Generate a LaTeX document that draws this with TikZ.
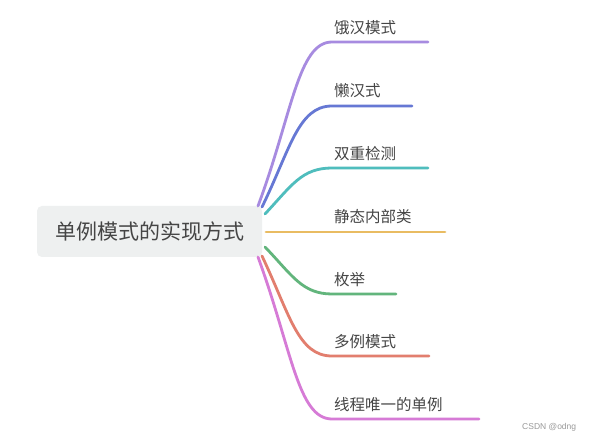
\documentclass[tikz,border=0pt]{standalone}
\usepackage{fontspec}
\newfontfamily\cjk{Noto Sans CJK SC}
\definecolor{cA}{HTML}{A78BE0}
\definecolor{cB}{HTML}{6678D4}
\definecolor{cC}{HTML}{4FBDBD}
\definecolor{cD}{HTML}{E9BC62}
\definecolor{cE}{HTML}{62B57C}
\definecolor{cF}{HTML}{E27E6E}
\definecolor{cG}{HTML}{D67BD6}
\definecolor{txt}{HTML}{454545}
\definecolor{boxfill}{HTML}{EEF0F0}
\begin{document}
\begin{tikzpicture}[x=1pt,y=-1pt,
  br/.style={line width=2.8pt,line cap=round},
  lbl/.style={font=\cjk\fontsize{15.5}{18}\selectfont,text=txt,anchor=south west,inner sep=0pt},
  rootbox/.style={fill=boxfill,rounded corners=5pt,minimum width=225pt,minimum height=51pt,
     font=\cjk\fontsize{21}{24}\selectfont,text=txt,inner sep=0pt}]
\useasboundingbox (0,0) rectangle (594,443);
\fill[white] (0,0) rectangle (594,443);
\node[rootbox] (root) at (149.5,231.5) {单例模式的实现方式};
% start coordinates
\coordinate (s1) at (258,206);
\coordinate (s2) at (262,207);
\coordinate (s3) at (265,214);
\coordinate (s4) at (266,232);
\coordinate (s5) at (265,247);
\coordinate (s6) at (262,256);
\coordinate (s7) at (258,257);
% bends
\coordinate (m1) at (332,42);  \coordinate (e1) at (428,42);
\coordinate (m2) at (332,106); \coordinate (e2) at (412,106);
\coordinate (m3) at (332,168); \coordinate (e3) at (428,168);
\coordinate (e4) at (445,232);
\coordinate (m5) at (332,294); \coordinate (e5) at (396,294);
\coordinate (m6) at (332,356); \coordinate (e6) at (429,356);
\coordinate (m7) at (332,419); \coordinate (e7) at (479,419);
\draw[br,cA] (s1) .. controls (292,115) and (298,42) .. (m1) -- (e1);
\draw[br,cB] (s2) .. controls (290,150) and (298,106) .. (m2) -- (e2);
\draw[br,cC] (s3) .. controls (292,185) and (302,168) .. (m3) -- (e3);
\draw[br,cD] (s4) -- (e4);
\draw[br,cE] (s5) .. controls (292,275) and (302,294) .. (m5) -- (e5);
\draw[br,cF] (s6) .. controls (290,315) and (298,356) .. (m6) -- (e6);
\draw[br,cG] (s7) .. controls (292,350) and (298,419) .. (m7) -- (e7);
\node[lbl] (l1) at (334,35) {饿汉模式};
\node[lbl] (l2) at (334,98) {懒汉式};
\node[lbl] (l3) at (334,161) {双重检测};
\node[lbl] (l4) at (334,224) {静态内部类};
\node[lbl] (l5) at (334,287) {枚举};
\node[lbl] (l6) at (334,349) {多例模式};
\node[lbl] (l7) at (334,412) {线程唯一的单例};
\node[font=\fontspec{Liberation Sans}\fontsize{8.5}{10}\selectfont,text=gray!80,anchor=west,inner sep=0pt] (wm) at (522,427) {CSDN @odng};
\end{tikzpicture}
\end{document}
